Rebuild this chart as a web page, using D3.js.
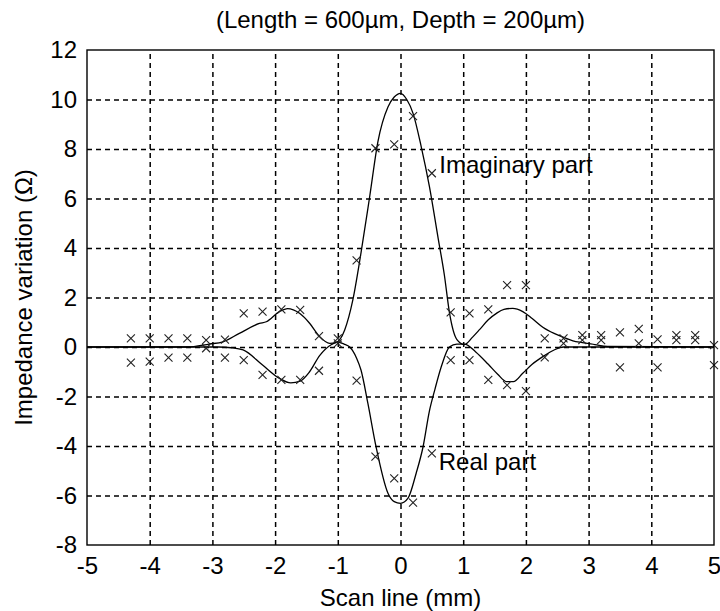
<!DOCTYPE html>
<html>
<head>
<meta charset="utf-8">
<script src="https://cdn.jsdelivr.net/npm/d3@7"></script>
<style>
	body { margin: 0; background: #fff; }
	svg { display: block; font-family: 'Liberation Sans', Arial, sans-serif; }
	.grid line { stroke: #000; stroke-width: 1.5; stroke-dasharray: 5,4; }
	.grid path { display: none; }
	.labels path, .labels line { display: none; }
	.labels text { font-size: 24px; fill: #000; }
</style>
</head>
<body>
<svg id="chart"></svg>
<script>
// measured scan positions (mm) and the two measured components
var scanX = [-4.3, -4.0, -3.7, -3.4, -3.1, -2.8, -2.5, -2.2, -1.9, -1.6, -1.3, -1.0, -0.7, -0.4, -0.1, 0.2,
	0.5, 0.8, 1.1, 1.4, 1.7, 2.0, 2.3, 2.6, 2.9, 3.2, 3.5, 3.8, 4.1, 4.4, 4.7, 5.0];
var imagMeasured = [0.35, 0.35, 0.35, 0.35, 0.28, 0.3, 1.36, 1.43, 1.52, 1.5, 0.44, 0.35, 3.5, 8.03, 8.19, 9.33,
	7.02, 1.4, 1.36, 1.52, 2.5, 2.5, 0.35, 0.35, 0.48, 0.48, 0.59, 0.73, 0.31, 0.48, 0.48, 0.08];
var realMeasured = [-0.63, -0.59, -0.43, -0.43, -0.05, -0.43, -0.53, -1.13, -1.33, -1.33, -0.96, 0.15, -1.36, -4.43, -5.31, -6.29,
	-4.3, -0.53, -0.53, -1.33, -1.54, -1.78, -0.42, 0.15, 0.28, 0.28, -0.82, 0.15, -0.82, 0.28, 0.28, -0.73];

// simulated curves
var imagCurveX = [-5, -3.4, -3.05, -2.83, -2.57, -2.25, -2.14, -1.93, -1.8, -1.61, -1.45, -1.29, -1.13, -1.03, -0.89, -0.76,
	-0.63, -0.49, -0.36, -0.2, -0.1, 0, 0.1, 0.2, 0.33, 0.46, 0.6, 0.7, 0.78, 0.9, 1.02, 1.15, 1.26, 1.4, 1.53, 1.65,
	1.79, 1.95, 2.1, 2.27, 2.45, 2.59, 2.75, 2.9, 3.1, 3.3, 5];
var imagCurveY = [0, 0, 0.12, 0.21, 0.55, 0.95, 1.02, 1.43, 1.55, 1.36, 0.96, 0.42, 0.15, 0.18, 0.69, 1.9,
	3.8, 6.1, 8.3, 9.7, 10.1, 10.25, 10.0, 9.44, 8.1, 6.5, 4.4, 2.9, 1.4, 0.3, 0.1, 0.4, 0.7, 1.1, 1.36, 1.52,
	1.56, 1.43, 1.15, 0.8, 0.55, 0.4, 0.25, 0.18, 0.1, 0.02, 0];
var realCurveX = [-5, -2.9, -2.7, -2.51, -2.2, -1.93, -1.75, -1.6, -1.45, -1.29, -1.1, -1.0, -0.9, -0.81, -0.7, -0.63,
	-0.52, -0.39, -0.2, -0.1, 0, 0.12, 0.25, 0.36, 0.46, 0.55, 0.65, 0.78, 0.9, 1.02, 1.2, 1.4, 1.55, 1.69, 1.8,
	1.95, 2.1, 2.27, 2.45, 2.6, 5];
var realCurveY = [0, 0, -0.03, -0.12, -0.73, -1.27, -1.45, -1.38, -1.0, -0.35, 0.1, 0.2, 0.12, 0, -0.45, -0.93,
	-2.28, -4.03, -5.91, -6.25, -6.32, -6.11, -5.1, -4.03, -2.6, -1.7, -0.8, 0, 0.12, 0.12, -0.2, -0.7, -1.1, -1.4, -1.4,
	-1.06, -0.7, -0.39, -0.12, 0, 0];

var xTicks = [-5, -4, -3, -2, -1, 0, 1, 2, 3, 4, 5];
var yTicks = [-8, -6, -4, -2, 0, 2, 4, 6, 8, 10, 12];

var title = '(Length = 600\u00b5m, Depth = 200\u00b5m)';
var xLabel = 'Scan line (mm)';
var yLabel = 'Impedance variation (\u03a9)';

var make = function() {
	var W = 720, H = 611;
	var left = 87, top = 50, width = 627, height = 495;

	var svg = d3.select('#chart')
		.attr('width', W)
		.attr('height', H);

	var xScale = d3.scaleLinear().domain([-5, 5]).range([0, width]);
	var yScale = d3.scaleLinear().domain([-8, 12]).range([height, 0]);

	var g = svg.append('g')
		.attr('transform', `translate(${left}, ${top})`);

	// dashed grid
	g.append('g')
		.attr('class', 'grid')
		.attr('transform', `translate(0, ${height})`)
		.call(d3.axisBottom(xScale).tickValues(xTicks.slice(1, -1)).tickSize(-height).tickFormat(''));
	g.append('g')
		.attr('class', 'grid')
		.call(d3.axisLeft(yScale).tickValues(yTicks.slice(1, -1)).tickSize(-width).tickFormat(''));

	// tick labels
	g.append('g')
		.attr('class', 'labels')
		.attr('transform', `translate(0, ${height})`)
		.call(d3.axisBottom(xScale).tickValues(xTicks).tickSize(0).tickPadding(12).tickFormat(d => String(d)));
	g.append('g')
		.attr('class', 'labels')
		.call(d3.axisLeft(yScale).tickValues(yTicks).tickSize(0).tickPadding(10).tickFormat(d => String(d)));

	var line = function(xs, ys) {
		return d3.line()
			.x((d, i) => xScale(xs[i]))
			.y(d => yScale(d))
			.curve(d3.curveMonotoneX)(ys);
	};

	g.append('path')
		.attr('d', line(imagCurveX, imagCurveY))
		.attr('fill', 'none')
		.attr('stroke', '#000')
		.attr('stroke-width', 1.3);
	g.append('path')
		.attr('d', line(realCurveX, realCurveY))
		.attr('fill', 'none')
		.attr('stroke', '#000')
		.attr('stroke-width', 1.3);

	// measured points as x markers
	var s = 4;
	var cross = 'M' + (-s) + ',' + (-s) + 'L' + s + ',' + s + 'M' + (-s) + ',' + s + 'L' + s + ',' + (-s);
	[imagMeasured, realMeasured].forEach(function(vals) {
		g.selectAll(null)
			.data(vals)
			.enter()
			.append('path')
			.attr('d', cross)
			.attr('transform', (d, i) => `translate(${xScale(scanX[i])}, ${yScale(d)})`)
			.attr('fill', 'none')
			.attr('stroke', '#222')
			.attr('stroke-width', 1.1);
	});

	// frame
	g.append('rect')
		.attr('width', width)
		.attr('height', height)
		.attr('fill', 'none')
		.attr('stroke', '#000')
		.attr('stroke-width', 1.4);

	g.append('text')
		.text('Imaginary part')
		.attr('x', xScale(0.62))
		.attr('y', yScale(7.03))
		.style('font-size', '24px');
	g.append('text')
		.text('Real part')
		.attr('x', xScale(0.61))
		.attr('y', yScale(-4.97))
		.style('font-size', '24px');

	svg.append('text')
		.text(title)
		.attr('x', left + width / 2)
		.attr('y', 28)
		.style('text-anchor', 'middle')
		.style('font-size', '24px');
	svg.append('text')
		.text(xLabel)
		.attr('x', left + width / 2)
		.attr('y', 606)
		.style('text-anchor', 'middle')
		.style('font-size', '24px');
	svg.append('text')
		.text(yLabel)
		.attr('transform', `translate(32, ${top + height / 2}) rotate(-90)`)
		.style('text-anchor', 'middle')
		.style('font-size', '24px');
};

make();
</script>
</body>
</html>
